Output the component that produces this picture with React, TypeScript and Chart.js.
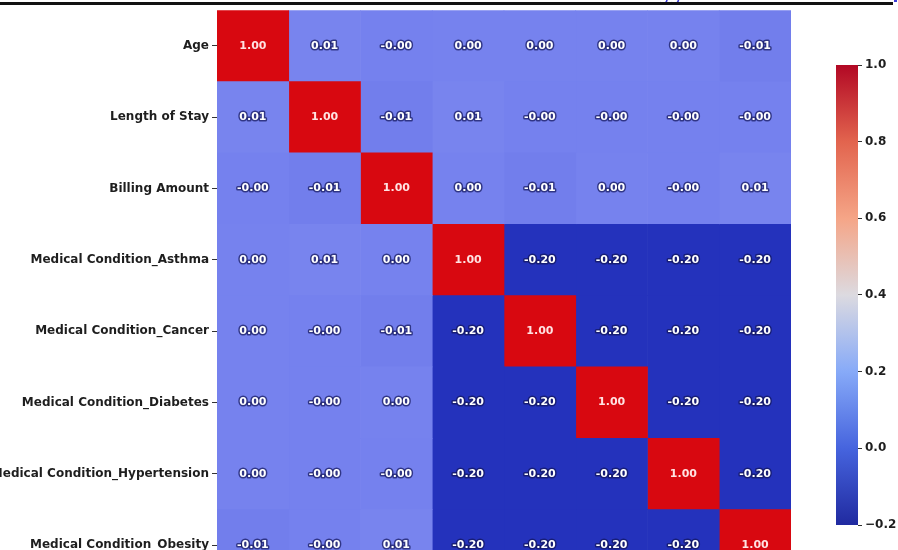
import React, { useEffect, useRef } from "react";
import { Chart, registerables } from "chart.js";

Chart.register(...registerables);

// Feature names, top to bottom / left to right
const features = [
  "Age",
  "Length of Stay",
  "Billing Amount",
  "Medical Condition_Asthma",
  "Medical Condition_Cancer",
  "Medical Condition_Diabetes",
  "Medical Condition_Hypertension",
  "Medical Condition_Obesity",
];

// Correlation rows (tiny signed values keep the "-0.00" / "0.00" labels)
const ageCorr = [1.0, 0.01, -0.002, 0.002, 0.002, 0.002, 0.002, -0.01];
const stayCorr = [0.01, 1.0, -0.01, 0.01, -0.002, -0.002, -0.002, -0.002];
const billingCorr = [-0.002, -0.01, 1.0, 0.002, -0.01, 0.002, -0.002, 0.01];
const asthmaCorr = [0.002, 0.01, 0.002, 1.0, -0.2, -0.2, -0.2, -0.2];
const cancerCorr = [0.002, -0.002, -0.01, -0.2, 1.0, -0.2, -0.2, -0.2];
const diabetesCorr = [0.002, -0.002, 0.002, -0.2, -0.2, 1.0, -0.2, -0.2];
const hypertensionCorr = [0.002, -0.002, -0.002, -0.2, -0.2, -0.2, 1.0, -0.2];
const obesityCorr = [-0.01, -0.002, 0.01, -0.2, -0.2, -0.2, -0.2, 1.0];

const corrRows = [
  ageCorr,
  stayCorr,
  billingCorr,
  asthmaCorr,
  cancerCorr,
  diabetesCorr,
  hypertensionCorr,
  obesityCorr,
];

// Colour bar range and ticks
const colorMin = -0.2;
const colorMax = 1.0;
const colorbarTicks = [-0.2, 0.0, 0.2, 0.4, 0.6, 0.8, 1.0];

// Cell colour stops (value -> rgb)
const cellStops: [number, number[]][] = [
  [-0.2, [36, 50, 188]],
  [0.0, [118, 130, 238]],
  [0.4, [215, 215, 226]],
  [1.0, [216, 8, 16]],
];

// Colour bar gradient stops (fraction from bottom -> rgb)
const barStops: [number, string][] = [
  [0, "rgb(32,42,160)"],
  [1 / 6, "rgb(70,100,222)"],
  [2 / 6, "rgb(135,170,248)"],
  [3 / 6, "rgb(220,218,224)"],
  [4 / 6, "rgb(245,165,135)"],
  [5 / 6, "rgb(226,100,78)"],
  [1, "rgb(178,8,36)"],
];

function cellColor(v: number): string {
  for (let k = 0; k < cellStops.length - 1; k++) {
    const [v0, c0] = cellStops[k];
    const [v1, c1] = cellStops[k + 1];
    if (v <= v1 || k === cellStops.length - 2) {
      const t = Math.max(0, Math.min(1, (v - v0) / (v1 - v0)));
      const c = c0.map((a, i) => Math.round(a + (c1[i] - a) * t));
      return `rgb(${c[0]},${c[1]},${c[2]})`;
    }
  }
  return "#000";
}

const labelFont = { family: "'DejaVu Sans', sans-serif", size: 12, weight: "bold" as const };

// Writes each correlation value in the middle of its cell
const cellTextPlugin = {
  id: "cellText",
  afterDatasetsDraw(chart: any) {
    const ctx = chart.ctx as CanvasRenderingContext2D;
    ctx.save();
    ctx.font = "bold 11px 'DejaVu Sans', sans-serif";
    ctx.textAlign = "center";
    ctx.textBaseline = "middle";
    chart.data.datasets.forEach((_: any, j: number) => {
      const meta = chart.getDatasetMeta(j);
      meta.data.forEach((el: any, i: number) => {
        const v = corrRows[i][j];
        const { x, y } = el.getCenterPoint();
        const txt = v.toFixed(2);
        if (v > 0.5) {
          ctx.fillStyle = "rgb(255,226,226)";
          ctx.fillText(txt, x, y);
        } else {
          ctx.lineJoin = "round";
          ctx.lineWidth = 3;
          ctx.strokeStyle = "rgba(18,22,90,0.7)";
          ctx.strokeText(txt, x, y);
          ctx.fillStyle = "#ffffff";
          ctx.fillText(txt, x, y);
        }
      });
    });
    ctx.restore();
  },
};

export default function App() {
  const heatRef = useRef<HTMLCanvasElement | null>(null);
  const barRef = useRef<HTMLCanvasElement | null>(null);

  useEffect(() => {
    if (!heatRef.current || !barRef.current) return;

    const datasets = features.map((name, j) => ({
      label: name,
      data: corrRows.map(() => [j, j + 1]),
      backgroundColor: corrRows.map((row) => cellColor(row[j])),
      borderWidth: 0,
      grouped: false,
      barPercentage: 1,
      categoryPercentage: 1,
    }));

    const heat = new Chart(heatRef.current, {
      type: "bar",
      data: { labels: features, datasets: datasets as any },
      options: {
        indexAxis: "y",
        responsive: false,
        animation: false,
        devicePixelRatio: 1,
        layout: { padding: { left: 0, right: 107, top: 8, bottom: 39 } },
        plugins: { legend: { display: false }, tooltip: { enabled: false } },
        scales: {
          x: { type: "linear", min: 0, max: features.length, display: false },
          y: {
            type: "category",
            offset: true,
            border: { display: false },
            grid: {
              display: true,
              offset: false,
              drawOnChartArea: false,
              drawTicks: true,
              tickLength: 5,
              color: "#333",
            },
            ticks: { color: "#1e1e1e", font: labelFont, padding: 3, autoSkip: false },
            afterFit(scale: any) {
              scale.width = 217;
            },
          },
        },
      },
      plugins: [cellTextPlugin],
    });

    const bar = new Chart(barRef.current, {
      type: "bar",
      data: {
        labels: [""],
        datasets: [
          {
            data: [[colorMin, colorMax]] as any,
            borderWidth: 0,
            barPercentage: 1,
            categoryPercentage: 1,
            backgroundColor: (c: any) => {
              const area = c.chart.chartArea;
              if (!area) return barStops[0][1];
              const g = c.chart.ctx.createLinearGradient(0, area.bottom, 0, area.top);
              barStops.forEach(([t, col]) => g.addColorStop(t, col));
              return g;
            },
          },
        ],
      },
      options: {
        responsive: false,
        animation: false,
        devicePixelRatio: 1,
        layout: { padding: { left: 36, right: 0, top: 65, bottom: 25 } },
        plugins: { legend: { display: false }, tooltip: { enabled: false } },
        scales: {
          x: { display: false },
          y: {
            type: "linear",
            position: "right",
            min: colorMin,
            max: colorMax,
            border: { display: false },
            grid: {
              display: true,
              drawOnChartArea: false,
              drawTicks: true,
              tickLength: 4,
              color: "#333",
            },
            ticks: {
              color: "#1e1e1e",
              font: { family: "'DejaVu Sans', sans-serif", size: 12, weight: "bold" },
              padding: 3,
              callback: (v: any) => {
                const n = Number(v);
                if (Math.abs(n) < 1e-9) return "0.0";
                return n.toFixed(1).replace("-", "\u2212");
              },
            },
            afterBuildTicks(scale: any) {
              scale.ticks = colorbarTicks.map((value) => ({ value }));
            },
            afterFit(scale: any) {
              scale.width = 40;
            },
          },
        },
      },
    });

    return () => {
      heat.destroy();
      bar.destroy();
    };
  }, []);

  return (
    <div
      style={{
        position: "absolute",
        left: 0,
        top: 0,
        width: 898,
        height: 550,
        overflow: "hidden",
        background: "#ffffff",
      }}
    >
      <canvas
        ref={heatRef}
        width={898}
        height={620}
        style={{ position: "absolute", left: 0, top: 0, width: 898, height: 620 }}
      />
      <canvas
        ref={barRef}
        width={98}
        height={550}
        style={{ position: "absolute", left: 800, top: 0, width: 98, height: 550 }}
      />
      <span
        style={{
          position: "absolute",
          left: 658,
          top: -15,
          fontFamily: "'DejaVu Sans', sans-serif",
          fontSize: 18,
          lineHeight: "18px",
          color: "rgb(60,60,215)",
          zIndex: 1,
        }}
      >
        gg
      </span>
      <div
        style={{
          position: "absolute",
          left: 0,
          top: 2,
          width: 893,
          height: 3,
          background: "#111",
          zIndex: 2,
        }}
      />
      <div
        style={{
          position: "absolute",
          left: 894,
          top: 0,
          width: 3,
          height: 2,
          background: "rgb(60,60,215)",
          zIndex: 2,
        }}
      />
    </div>
  );
}
